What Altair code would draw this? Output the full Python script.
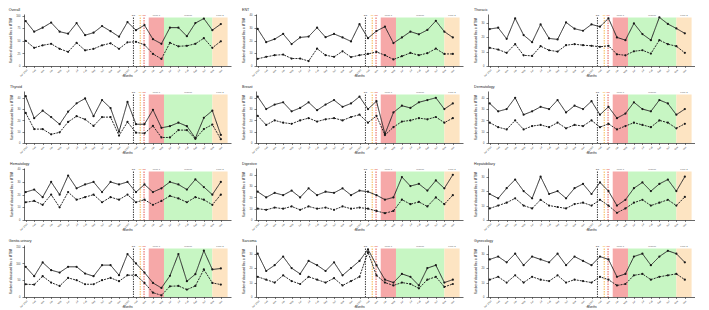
import altair as alt
import pandas as pd

month_labels = ["Jan 2019", "Feb", "Mar", "Apr", "May", "Jun", "Jul", "Aug", "Sep", "Oct", "Nov", "Dec",
                "Jan 2020", "Feb", "Mar", "Apr", "May", "Jun", "Jul", "Aug", "Sep", "Oct", "Nov", "Dec"]
month_index = list(range(24))

panel_names = ["Overall", "ENT", "Thoracic",
               "Thyroid", "Breast", "Dermatology",
               "Hematology", "Digestive", "Hepatobiliary",
               "Genito-urinary", "Sarcoma", "Gynecology"]

solid_values = {
    "Overall": [89, 68, 76, 86, 68, 64, 85, 61, 66, 79, 69, 58, 87, 71, 81, 53, 44, 76, 76, 59, 85, 94, 71, 83],
    "ENT": [29.2, 18.8, 21.2, 25.3, 17.3, 22.5, 23.2, 30.2, 22.7, 25.3, 22.5, 19.4, 33, 21.9, 27.6, 31, 18.1, 22.5, 27.1, 25, 28.4, 35.6, 27.1, 22.5],
    "Thoracic": [25.6, 26.5, 18.8, 33, 21.4, 16.5, 28.8, 19.1, 18.4, 30.2, 25.8, 24.4, 28.8, 27.2, 33, 19.8, 17.9, 29.5, 22.1, 17.9, 33.7, 29.1, 26, 22.6],
    "Thyroid": [41.4, 22, 28.6, 22.9, 16.6, 27.7, 35.1, 39.4, 23.7, 38, 30.9, 10, 36.3, 16.6, 16.6, 29.4, 13.4, 14.9, 18, 14.9, 4.3, 22.3, 28.6, 7.1],
    "Breast": [41, 30, 34, 36, 28, 31, 36, 29, 34, 38, 32, 35, 41, 30, 37, 8, 27, 33, 31, 36, 38, 40, 30, 35],
    "Dermatology": [35, 28, 30, 40, 25, 28, 32, 30, 38, 27, 33, 30, 37, 25, 32, 22, 26, 36, 30, 28, 38, 35, 25, 30],
    "Hematology": [22, 24, 18, 30, 20, 35, 25, 28, 30, 22, 30, 28, 30, 22, 28, 22, 25, 30, 28, 24, 32, 26, 20, 30],
    "Digestive": [25, 20, 24, 22, 26, 20, 28, 22, 25, 24, 28, 22, 26, 25, 22, 18, 20, 38, 30, 32, 26, 35, 28, 40],
    "Hepatobiliary": [18, 15, 22, 28, 20, 15, 30, 18, 20, 15, 22, 25, 18, 26, 20, 10, 14, 22, 26, 20, 25, 28, 20, 30],
    "Genito-urinary": [90, 62, 103, 80, 73, 90, 90, 70, 62, 95, 95, 65, 128, 100, 73, 42, 27, 63, 128, 47, 68, 138, 82, 85],
    "Sarcoma": [30, 18, 22, 28, 20, 16, 25, 22, 18, 24, 15, 20, 25, 33, 22, 12, 10, 16, 14, 8, 20, 22, 10, 12],
    "Gynecology": [26, 28, 24, 30, 22, 28, 26, 24, 30, 22, 28, 25, 22, 28, 26, 14, 16, 28, 30, 22, 28, 32, 30, 24],
}

dashed_values = {
    "Overall": [50, 36, 41, 44, 34, 28, 46, 31, 34, 41, 45, 34, 47, 48, 42, 24, 14, 46, 39, 40, 44, 55, 36, 49],
    "ENT": [5.7, 7.2, 8.5, 9, 5.9, 5.9, 3.9, 13.7, 8.5, 7.2, 11.6, 7, 8.5, 9.5, 11.1, 8.5, 5.2, 7.7, 10.3, 8.5, 10.1, 13.7, 9.5, 9.5],
    "Thoracic": [12.6, 11.4, 9.1, 15.1, 7.4, 7, 13.7, 10.9, 10, 14.4, 15.1, 14.4, 14, 13.3, 14, 8.1, 7.4, 10.2, 10.9, 8.6, 17.9, 15.1, 13.7, 9.1],
    "Thyroid": [26.6, 12.3, 12.3, 7.7, 9.4, 18.6, 23.7, 20.9, 15.1, 22.9, 22.9, 6.6, 18.6, 9.1, 8.6, 15.1, 4.9, 4.9, 11.4, 11.4, 3.7, 12.3, 16.3, 3.4],
    "Breast": [24, 16, 20, 18, 17, 20, 22, 19, 21, 22, 20, 23, 25, 18, 24, 7, 14, 19, 20, 22, 21, 23, 18, 22],
    "Dermatology": [18, 14, 12, 20, 12, 15, 16, 14, 18, 13, 16, 15, 20, 14, 17, 12, 15, 18, 16, 14, 20, 18, 13, 17],
    "Hematology": [14, 15, 12, 20, 10, 22, 16, 18, 20, 14, 18, 16, 20, 14, 16, 12, 15, 19, 17, 14, 18, 16, 12, 20],
    "Digestive": [10, 9, 11, 10, 12, 9, 12, 10, 11, 9, 12, 10, 11, 10, 8, 6, 8, 18, 14, 16, 12, 20, 14, 22],
    "Hepatobiliary": [8, 10, 12, 15, 10, 8, 14, 10, 9, 8, 11, 12, 10, 14, 10, 5, 8, 12, 14, 10, 12, 14, 10, 16],
    "Genito-urinary": [38, 37, 62, 43, 33, 57, 50, 38, 38, 50, 57, 47, 65, 65, 42, 13, 5, 32, 33, 22, 33, 82, 42, 37],
    "Sarcoma": [14, 12, 10, 15, 11, 9, 14, 12, 10, 13, 8, 11, 14, 31, 15, 10, 8, 10, 9, 6, 12, 14, 7, 9],
    "Gynecology": [12, 14, 10, 15, 10, 14, 12, 11, 15, 10, 12, 11, 10, 14, 12, 8, 9, 15, 16, 12, 14, 15, 16, 12],
}

y_max = {"Overall": 103, "ENT": 41, "Thoracic": 36, "Thyroid": 46, "Breast": 46, "Dermatology": 46,
         "Hematology": 41, "Digestive": 46, "Hepatobiliary": 36, "Genito-urinary": 155, "Sarcoma": 36,
         "Gynecology": 36}
y_ticks = {"Overall": [0, 25, 50, 75, 100], "ENT": [0, 10, 20, 30, 40], "Thoracic": [0, 10, 20, 30],
           "Thyroid": [0, 10, 20, 30, 40], "Breast": [0, 10, 20, 30, 40], "Dermatology": [0, 10, 20, 30, 40],
           "Hematology": [0, 10, 20, 30, 40], "Digestive": [0, 10, 20, 30, 40], "Hepatobiliary": [0, 10, 20, 30],
           "Genito-urinary": [0, 50, 100, 150], "Sarcoma": [0, 10, 20, 30], "Gynecology": [0, 10, 20, 30]}

region_labels = ["Lock 1", "Unlock", "Lock 2"]
region_start = [14.5, 16.3, 22.0]
region_end = [16.3, 22.0, 23.8]
region_colors = ["#f5a3a3", "#c4f5c0", "#fde3bf"]

event_labels = ["C1", "S1", "S2"]
event_pos = [12.7, 13.5, 13.95]
event_colors = ["#111111", "#f5a623", "#e0312a"]

W, H = 207, 52
TOP = 3.5  # space kept at the top of each plot for the small labels
label_expr = "[" + ",".join("'%s'" % m for m in month_labels) + "][datum.value]"


def make_panel(name):
    df = pd.DataFrame({
        "m": month_index * 2,
        "v": solid_values[name] + dashed_values[name],
        "series": ["solid"] * 24 + ["dashed"] * 24,
    })
    reg = pd.DataFrame({"s": region_start, "e": region_end, "c": region_colors, "t": region_labels})
    ev = pd.DataFrame({"x": event_pos, "c": event_colors, "t": event_labels})
    xscale = alt.Scale(domain=[-0.2, 24.2], nice=False, zero=False)
    yscale = alt.Scale(domain=[0, y_max[name]], nice=False)
    xaxis = alt.Axis(values=month_index, labelExpr=label_expr, labelAngle=-45, labelAlign="right",
                     labelBaseline="top", title="Months", labelPadding=1, titleY=8.5, tickSize=1.5,
                     labelFontSize=2.3)
    yaxis = alt.Axis(values=y_ticks[name], title="Number of discussed files in MTBM",
                     labelPadding=2, titlePadding=4)

    rects = alt.Chart(reg).mark_rect(opacity=0.95).encode(
        x=alt.X("s:Q", scale=xscale, axis=xaxis), x2="e:Q",
        y=alt.value(TOP), y2=alt.value(H), color=alt.Color("c:N", scale=None))
    rtext = alt.Chart(reg).transform_calculate(mid="(datum.s + datum.e) / 2").mark_text(
        fontSize=2.5, color="#666", baseline="middle").encode(
        x=alt.X("mid:Q", scale=xscale, axis=xaxis), y=alt.value(1.6), text="t:N")
    rules = alt.Chart(ev).mark_rule(strokeDash=[1.5, 1], strokeWidth=0.8).encode(
        x=alt.X("x:Q", scale=xscale, axis=xaxis), y=alt.value(TOP), y2=alt.value(H),
        color=alt.Color("c:N", scale=None))
    etext = alt.Chart(ev).mark_text(fontSize=2.5, baseline="middle").encode(
        x=alt.X("x:Q", scale=xscale, axis=xaxis), y=alt.value(1.6), text="t:N",
        color=alt.Color("c:N", scale=None))
    lines = alt.Chart(df).mark_line(color="#2a2a2a", strokeWidth=1.0).encode(
        x=alt.X("m:Q", scale=xscale, axis=xaxis),
        y=alt.Y("v:Q", scale=yscale, axis=yaxis),
        strokeDash=alt.StrokeDash("series:N", scale=alt.Scale(domain=["solid", "dashed"],
                                                               range=[[1, 0], [2, 1]]), legend=None))
    pts = alt.Chart(df).mark_circle(color="#1a1a1a", size=5, opacity=1).encode(
        x=alt.X("m:Q", scale=xscale, axis=xaxis), y=alt.Y("v:Q", scale=yscale, axis=yaxis))
    return alt.layer(rects, rtext, rules, etext, lines, pts).properties(
        width=W, height=H,
        title=alt.TitleParams(text=name, anchor="start", frame="bounds", fontSize=3.6,
                              fontWeight="normal", offset=2, color="#222222"))


rows = []
for r in range(4):
    rows.append(alt.hconcat(*[make_panel(n) for n in panel_names[r * 3:(r + 1) * 3]], spacing=11))

chart = alt.vconcat(*rows, spacing=7).properties(padding=0).configure_view(stroke=None).configure_axis(
    grid=False, domainColor="#000000", tickColor="#000000", domainWidth=0.6, tickWidth=0.5, tickSize=2,
    labelFontSize=2.6, titleFontSize=2.9, labelColor="#444444", titleColor="#222222",
    labelFont="Liberation Sans", titleFont="Liberation Sans", titleFontWeight="normal"
).configure_text(font="Liberation Sans").configure_title(font="Liberation Sans")

chart.save("out.html", embed_options={"renderer": "svg", "actions": False})
